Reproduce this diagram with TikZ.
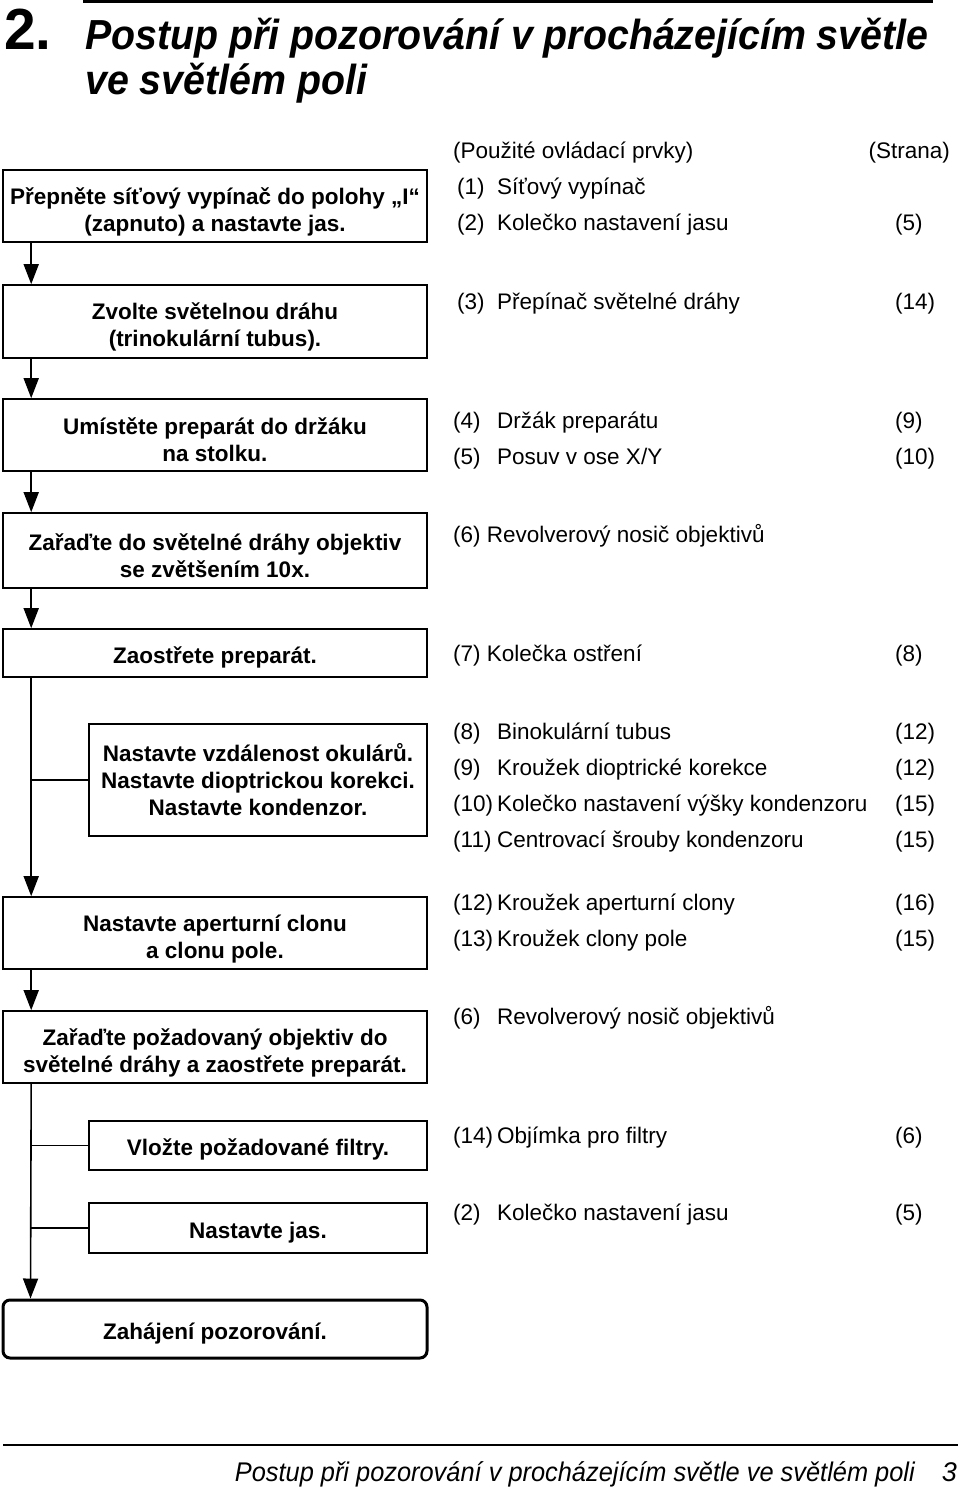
\documentclass[tikz,border=0pt]{standalone}
\usepackage{fontspec}
\setmainfont{Liberation Sans}
\usetikzlibrary{arrows.meta}
\tikzset{
  box/.style={draw, line width=1.6pt, inner sep=0pt},
  widebox/.style={box, minimum width=424pt},
  subbox/.style={box, minimum width=338pt},
  btext/.style={align=center, inner sep=0pt,
    font=\fontsize{22.5}{27}\selectfont\bfseries},
  conn/.style={line width=1.6pt},
  arr/.style={conn, -{Triangle[length=20pt,width=15pt]}},
  item/.style={anchor=base west, inner sep=0pt, font=\fontsize{22.5}{27}\selectfont},
  page/.style={item},
}
\begin{document}
\begin{tikzpicture}[x=1pt,y=-1pt]
\useasboundingbox (0,0) rectangle (960,1487);
% header
\draw[line width=2.5pt] (83,1.5) -- (933,1.5);
\node[anchor=base west, inner sep=0pt] (num) at (4,50)
  {\scalebox{0.98}[1]{\fontsize{58}{58}\selectfont\bfseries 2.}};
\node[anchor=base west, inner sep=0pt] (tl1) at (85,50)
  {\scalebox{0.936}[1]{\fontsize{42}{42}\selectfont\bfseries\itshape Postup při pozorování v procházejícím světle}};
\node[anchor=base west, inner sep=0pt] (tl2) at (85,95)
  {\scalebox{0.936}[1]{\fontsize{42}{42}\selectfont\bfseries\itshape ve světlém poli}};
% boxes
\node[widebox, minimum height=72pt] (b1) at (215,206) {};
\node[btext] (b1t) at ([yshift=-5.5pt]b1.center)
  {Přepněte síťový vypínač do polohy „I“\\(zapnuto) a nastavte jas.};
\node[widebox, minimum height=73pt] (b2) at (215,321.5) {};
\node[btext] (b2t) at ([yshift=-5pt]b2.center)
  {Zvolte světelnou dráhu\\(trinokulární tubus).};
\node[widebox, minimum height=72pt] (b3) at (215,435) {};
\node[btext] (b3t) at ([yshift=-4.5pt]b3.center)
  {Umístěte preparát do držáku\\na stolku.};
\node[widebox, minimum height=75pt] (b4) at (215,550.5) {};
\node[btext] (b4t) at ([yshift=-5.5pt]b4.center)
  {Zařaďte do světelné dráhy objektiv\\se zvětšením 10x.};
\node[widebox, minimum height=48pt] (b5) at (215,653) {};
\node[btext] (b5t) at ([yshift=-4pt]b5.center) {Zaostřete preparát.};
\node[subbox, minimum height=112pt] (b6) at (258,780) {};
\node[btext] (b6t) at (b6.center)
  {Nastavte vzdálenost okulárů.\\Nastavte dioptrickou korekci.\\Nastavte kondenzor.};
\node[widebox, minimum height=72pt] (b7) at (215,933) {};
\node[btext] (b7t) at ([yshift=-6pt]b7.center)
  {Nastavte aperturní clonu\\a clonu pole.};
\node[widebox, minimum height=72pt] (b8) at (215,1047) {};
\node[btext] (b8t) at ([yshift=-6pt]b8.center)
  {Zařaďte požadovaný objektiv do\\světelné dráhy a zaostřete preparát.};
\node[subbox, minimum height=49pt] (b9) at (258,1145.5) {};
\node[btext] (b9t) at ([yshift=-4pt]b9.center) {Vložte požadované filtry.};
\node[subbox, minimum height=50pt] (b10) at (258,1228) {};
\node[btext] (b10t) at ([yshift=-5pt]b10.center) {Nastavte jas.};
\node[widebox, minimum height=58pt, line width=3pt, rounded corners=7pt] (fin) at (215,1329) {};
\node[btext] (fint) at ([yshift=-5pt]fin.center) {Zahájení pozorování.};
% connectors
\draw[arr] ([xshift=29pt]b1.south west) -- ([xshift=29pt]b2.north west);
\draw[arr] ([xshift=29pt]b2.south west) -- ([xshift=29pt]b3.north west);
\draw[arr] ([xshift=29pt]b3.south west) -- ([xshift=29pt]b4.north west);
\draw[arr] ([xshift=29pt]b4.south west) -- ([xshift=29pt]b5.north west);
\draw[arr] ([xshift=29pt]b5.south west) coordinate (t5) -- ([xshift=29pt]b7.north west);
\draw[conn] (t5 |- b6.west) -- (b6.west);
\draw[arr] ([xshift=29pt]b7.south west) -- ([xshift=29pt]b8.north west);
\draw[arr] ([xshift=29pt]b8.south west) coordinate (t8) -- ([xshift=29pt]fin.north west);
\draw[conn] (t8 |- b9.west) -- (b9.west);
\draw[conn] (t8 |- b10.west) -- (b10.west);
% right column
\node[item] (hd1) at (453,159) {(Použité ovládací prvky)};
\node[item, anchor=base east] (hd2) at (950,159) {(Strana)};
\node[item] (n1) at (457,195) {(1)};
\node[item] (x1) at (497,195) {Síťový vypínač};
\node[item] (n2) at (457,231) {(2)};
\node[item] (x2) at (497,231) {Kolečko nastavení jasu};
\node[page] (p2) at (895,231) {(5)};
\node[item] (n3) at (457,309) {(3)};
\node[item] (x3) at (497,309) {Přepínač světelné dráhy};
\node[page] (p3) at (895,309) {(14)};
\node[item] (n4) at (453,428) {(4)};
\node[item] (x4) at (497,428) {Držák preparátu};
\node[page] (p4) at (895,428) {(9)};
\node[item] (n5) at (453,464) {(5)};
\node[item] (x5) at (497,464) {Posuv v ose X/Y};
\node[page] (p5) at (895,464) {(10)};
\node[item] (x6a) at (453,542) {(6) Revolverový nosič objektivů};
\node[item] (x7) at (453,661) {(7) Kolečka ostření};
\node[page] (p7) at (895,661) {(8)};
\node[item] (n8) at (453,739) {(8)};
\node[item] (x8) at (497,739) {Binokulární tubus};
\node[page] (p8) at (895,739) {(12)};
\node[item] (n9) at (453,775) {(9)};
\node[item] (x9) at (497,775) {Kroužek dioptrické korekce};
\node[page] (p9) at (895,775) {(12)};
\node[item] (n10) at (453,811) {(10)};
\node[item] (x10) at (497,811) {Kolečko nastavení výšky kondenzoru};
\node[page] (p10) at (895,811) {(15)};
\node[item] (n11) at (453,847) {(11)};
\node[item] (x11) at (497,847) {Centrovací šrouby kondenzoru};
\node[page] (p11) at (895,847) {(15)};
\node[item] (n12) at (453,910) {(12)};
\node[item] (x12) at (497,910) {Kroužek aperturní clony};
\node[page] (p12) at (895,910) {(16)};
\node[item] (n13) at (453,946) {(13)};
\node[item] (x13) at (497,946) {Kroužek clony pole};
\node[page] (p13) at (895,946) {(15)};
\node[item] (n6b) at (453,1024) {(6)};
\node[item] (x6b) at (497,1024) {Revolverový nosič objektivů};
\node[item] (n14) at (453,1143) {(14)};
\node[item] (x14) at (497,1143) {Objímka pro filtry};
\node[page] (p14) at (895,1143) {(6)};
\node[item] (n2b) at (453,1220) {(2)};
\node[item] (x2b) at (497,1220) {Kolečko nastavení jasu};
\node[page] (p2b) at (895,1220) {(5)};
% footer
\draw[line width=2pt] (3,1445) -- (958,1445);
\node[anchor=base east, inner sep=0pt] (ft) at (915,1481)
  {\scalebox{0.94}[1]{\fontsize{27}{27}\selectfont\itshape Postup při pozorování v procházejícím světle ve světlém poli}};
\node[anchor=base east, inner sep=0pt] (pg) at (957,1481)
  {\fontsize{27}{27}\selectfont\itshape 3};
\end{tikzpicture}
\end{document}
